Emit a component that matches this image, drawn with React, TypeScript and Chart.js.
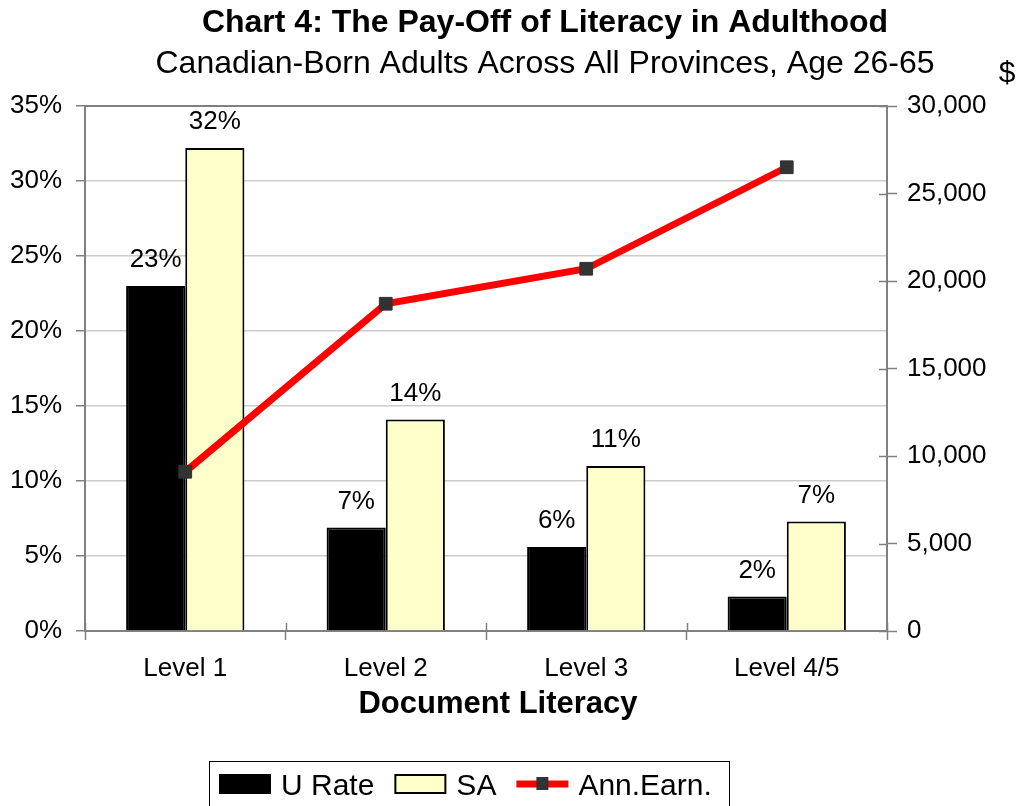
import React, { useEffect, useRef } from "react";
import { Chart, registerables } from "chart.js";

Chart.register(...registerables);

// ---- Data ----
const categories = ["Level 1", "Level 2", "Level 3", "Level 4/5"];
const uRateValues = [23.0, 6.9, 5.6, 2.3];
const saValues = [32.2, 14.1, 11.0, 7.3];
const annEarnValues = [9100, 18700, 20700, 26500];
const seriesLabels = ["U Rate", "SA", "Ann.Earn."];
const leftAxisMax = 35;
const leftAxisStep = 5;
const rightAxisMax = 30000;
const rightAxisStep = 5000;
const titleText = "Chart 4: The Pay-Off of Literacy in Adulthood";
const subtitleText = "Canadian-Born Adults Across All Provinces, Age 26-65";
const xAxisTitle = "Document Literacy";
const rightAxisUnit = "$";

const FONT = '"Liberation Sans", Arial, Helvetica, sans-serif';
const AXIS_GRAY = "#808080";

const overlayPlugin = {
  id: "overlay",
  afterDraw(chart: any) {
    const ctx = chart.ctx as CanvasRenderingContext2D;
    const { left, right, top, bottom } = chart.chartArea;
    ctx.save();

    // plot-area top border
    ctx.strokeStyle = AXIS_GRAY;
    ctx.lineWidth = 2;
    ctx.beginPath();
    ctx.moveTo(left - 1, top);
    ctx.lineTo(right + 1, top);
    ctx.stroke();

    // inner half of the right-axis tick marks
    const y1 = chart.scales.y1;
    ctx.lineWidth = 1.5;
    y1.ticks.forEach((t: any) => {
      const py = Math.round(y1.getPixelForValue(t.value)) + 0.5;
      ctx.beginPath();
      ctx.moveTo(right - 8, py);
      ctx.lineTo(right, py);
      ctx.stroke();
    });

    // inner half of the category tick marks
    const xs = chart.scales.x;
    for (let i = 0; i <= categories.length; i++) {
      const px = Math.round(xs.getPixelForValue(i - 0.5)) + 0.5;
      ctx.beginPath();
      ctx.moveTo(px, bottom - 8);
      ctx.lineTo(px, bottom);
      ctx.stroke();
    }

    // bar data labels
    ctx.fillStyle = "#000";
    ctx.font = `26px ${FONT}`;
    ctx.textAlign = "center";
    ctx.textBaseline = "alphabetic";
    chart.data.datasets.forEach((ds: any, di: number) => {
      if (ds.type !== "bar") return;
      const meta = chart.getDatasetMeta(di);
      const vals = ds.data as number[];
      meta.data.forEach((el: any, j: number) => {
        ctx.fillText(Math.round(vals[j]) + "%", el.x, el.y - 19);
      });
    });

    // titles
    ctx.font = `bold 32px ${FONT}`;
    ctx.fillText(titleText, 545, 32);
    ctx.font = `32px ${FONT}`;
    ctx.fillText(subtitleText, 545, 73);
    ctx.font = `30px ${FONT}`;
    ctx.fillText(rightAxisUnit, 1007, 82);

    // x axis title
    ctx.font = `bold 31px ${FONT}`;
    ctx.fillText(xAxisTitle, 498, 713);

    // legend
    const boxLeft = 209;
    const boxRight = 729;
    const boxTop = 761;
    ctx.strokeStyle = "#000";
    ctx.lineWidth = 1;
    ctx.strokeRect(boxLeft + 0.5, boxTop + 0.5, boxRight - boxLeft, 80);
    ctx.font = `30px ${FONT}`;
    ctx.textAlign = "left";
    let x = 219;
    const symW = 52;
    chart.data.datasets.forEach((ds: any) => {
      if (ds.type === "line") {
        ctx.strokeStyle = ds.borderColor;
        ctx.lineWidth = 7;
        ctx.beginPath();
        ctx.moveTo(x, 784);
        ctx.lineTo(x + symW, 784);
        ctx.stroke();
        ctx.fillStyle = ds.pointBackgroundColor;
        ctx.fillRect(x + symW / 2 - 6, 777, 12, 13);
      } else {
        ctx.fillStyle = ds.backgroundColor;
        ctx.fillRect(x, 774, symW, 20);
        ctx.strokeStyle = "#000";
        ctx.lineWidth = 2;
        ctx.strokeRect(x + 1, 775, symW - 2, 18);
      }
      ctx.fillStyle = "#000";
      const tx = x + symW + 10;
      ctx.fillText(ds.label, tx, 795);
      x = tx + ctx.measureText(ds.label).width + 20;
    });

    ctx.restore();
  },
};

export default function App() {
  const canvasRef = useRef<HTMLCanvasElement | null>(null);

  useEffect(() => {
    document.body.style.margin = "0";
    const canvas = canvasRef.current;
    if (!canvas) return;

    const chart = new Chart(canvas, {
      type: "bar",
      data: {
        labels: categories,
        datasets: [
          {
            type: "bar",
            label: seriesLabels[0],
            data: uRateValues,
            yAxisID: "y",
            backgroundColor: "#000000",
            borderColor: "#000000",
            borderWidth: 2,
            categoryPercentage: 0.59,
            barPercentage: 1.0,
            order: 1,
          } as any,
          {
            type: "bar",
            label: seriesLabels[1],
            data: saValues,
            yAxisID: "y",
            backgroundColor: "#FFFFCC",
            borderColor: "#000000",
            borderWidth: 2,
            categoryPercentage: 0.59,
            barPercentage: 1.0,
            order: 1,
          } as any,
          {
            type: "line",
            label: seriesLabels[2],
            data: annEarnValues,
            yAxisID: "y1",
            borderColor: "#FF0000",
            backgroundColor: "#FF0000",
            borderWidth: 7,
            tension: 0,
            pointStyle: "rect",
            pointRadius: 9,
            pointBackgroundColor: "#333333",
            pointBorderColor: "#333333",
            pointBorderWidth: 1,
            order: 0,
          } as any,
        ],
      },
      options: {
        responsive: false,
        animation: false,
        devicePixelRatio: 1,
        layout: { padding: { top: 106, left: 0, right: 0, bottom: 0 } },
        plugins: {
          legend: { display: false },
          tooltip: { enabled: false },
          title: { display: false },
        },
        scales: {
          x: {
            offset: true,
            grid: {
              offset: true,
              drawOnChartArea: false,
              drawTicks: true,
              tickLength: 9,
              tickColor: AXIS_GRAY,
              tickWidth: 1.5,
            },
            border: { color: AXIS_GRAY, width: 2 },
            ticks: {
              color: "#000",
              font: { family: FONT, size: 26 },
              padding: 13,
              maxRotation: 0,
            },
            afterFit: (s: any) => {
              s.height = 175;
            },
          },
          y: {
            position: "left",
            min: 0,
            max: leftAxisMax,
            grid: {
              color: "#cccccc",
              lineWidth: 1.5,
              tickColor: AXIS_GRAY,
              tickLength: 9,
              tickWidth: 1.5,
            },
            border: { color: AXIS_GRAY, width: 2 },
            ticks: {
              stepSize: leftAxisStep,
              color: "#000",
              font: { family: FONT, size: 26 },
              padding: 14,
              callback: (v: any) => v + "%",
            },
            afterFit: (s: any) => {
              s.width = 85;
            },
          },
          y1: {
            position: "right",
            min: 0,
            max: rightAxisMax,
            grid: {
              drawOnChartArea: false,
              tickColor: AXIS_GRAY,
              tickLength: 10,
              tickWidth: 1.5,
            },
            border: { color: AXIS_GRAY, width: 2 },
            ticks: {
              stepSize: rightAxisStep,
              color: "#000",
              font: { family: FONT, size: 26 },
              padding: 10,
              callback: (v: any) => Number(v).toLocaleString("en-US"),
            },
            afterFit: (s: any) => {
              s.width = 132;
            },
          },
        },
      } as any,
      plugins: [overlayPlugin],
    });

    return () => {
      chart.destroy();
    };
  }, []);

  return (
    <div style={{ width: 1019, height: 806, position: "relative", background: "#fff" }}>
      <canvas ref={canvasRef} width={1019} height={806} style={{ display: "block" }} />
    </div>
  );
}
